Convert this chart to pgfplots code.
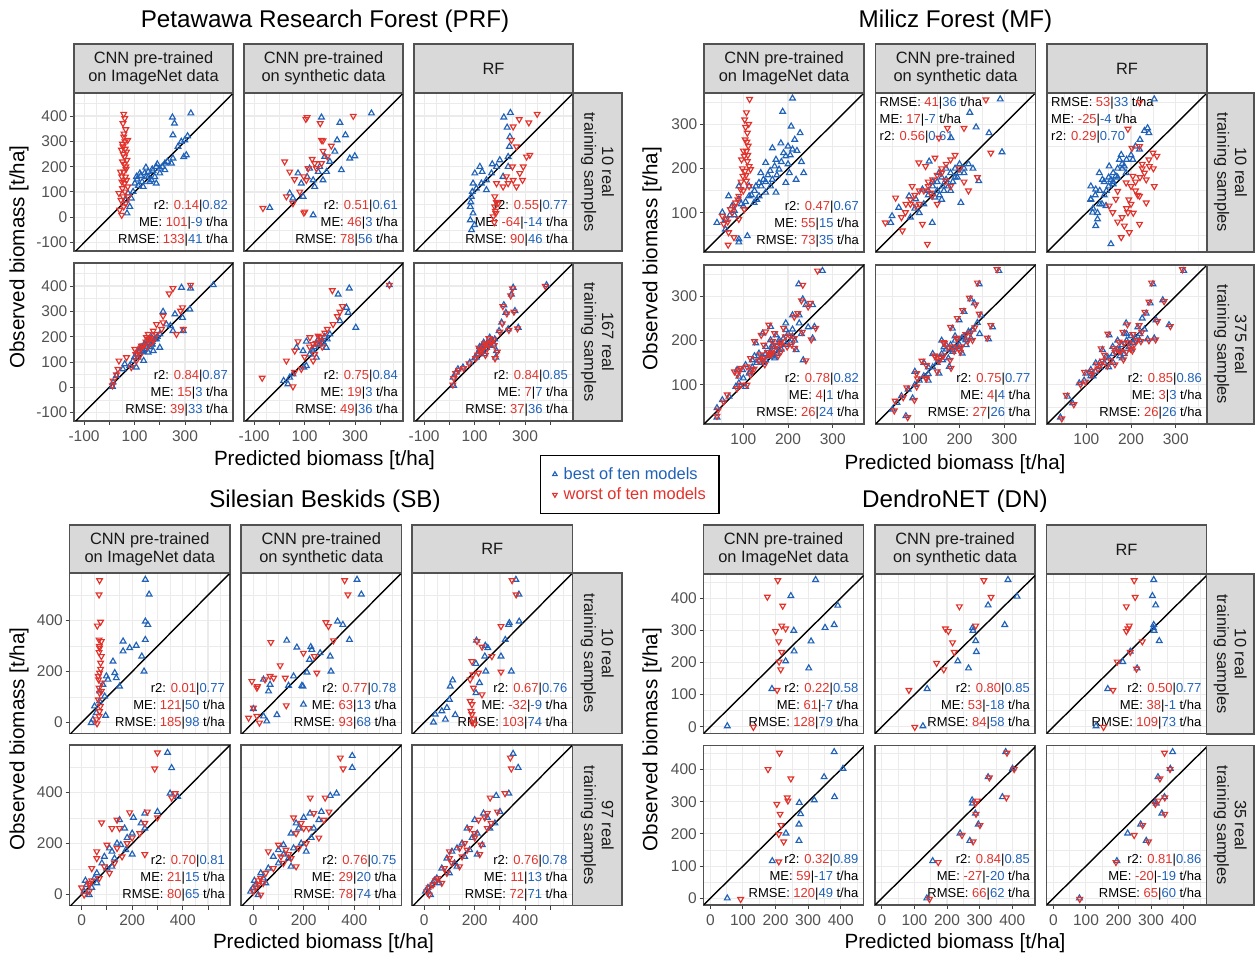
\documentclass[border=0pt]{standalone}
\usepackage{fontspec}
\setmainfont{Liberation Sans}
\usepackage{pgfplots}
\pgfplotsset{compat=1.18}
\definecolor{cB}{HTML}{2062B8}
\definecolor{cR}{HTML}{E2322B}
\definecolor{gridc}{gray}{0.92}
\definecolor{bordc}{gray}{0.32}
\definecolor{tickc}{gray}{0.25}
\definecolor{tickl}{gray}{0.32}
\definecolor{stripf}{gray}{0.85}
\definecolor{stript}{gray}{0.1}
\tikzset{
 stat/.style={anchor=base east, inner sep=0pt, font=\fontsize{13}{13}\selectfont, xshift=-5pt},
 statL/.style={anchor=base west, inner sep=0pt, font=\fontsize{13}{13}\selectfont, xshift=4pt},
 stripbox/.style={fill=stripf, draw=bordc, line width=1.1pt},
 striptext/.style={align=center, font=\fontsize{16.4}{17.6}\selectfont, text=stript, inner sep=0pt},
}
\pgfplotsset{
 base/.style={scale only axis, anchor=north west, grid=both,
  major grid style={gridc, line width=1.1pt}, minor grid style={gridc, line width=0.55pt},
  axis line style={bordc, line width=1.1pt}, tick align=outside, xtick pos=bottom, ytick pos=left,
  major tick length=4pt, minor tick length=0pt, tick style={tickc, line width=1pt},
  ticklabel style={font=\fontsize{15.5}{16}\selectfont, text=tickl},
  xticklabel style={inner ysep=5pt}, yticklabel style={inner xsep=2.5pt},
  /pgf/number format/assume math mode=true, clip=true},
 prf/.style={base, width=159pt, height=158pt, xmin=-140, xmax=490, ymin=-133, ymax=491,
  xtick={-100,0,...,400}, xticklabels={-100,,100,,300,}, minor xtick={-50,50,...,450},
  ytick={-100,0,...,400}, yticklabels={-100,0,100,200,300,400}, minor ytick={-50,50,...,450}},
 mf/.style={base, width=160pt, height=159pt, xmin=12, xmax=370, ymin=12, ymax=370,
  xtick={100,200,300}, xticklabels={100,200,300}, minor xtick={50,150,250,350},
  ytick={100,200,300}, yticklabels={100,200,300}, minor ytick={50,150,250,350}},
 sb/.style={base, width=160.5pt, height=160.5pt, xmin=-48, xmax=587, ymin=-43, ymax=587,
  xtick={0,100,...,500}, xticklabels={0,,200,,400,}, minor xtick={-50,50,...,550},
  ytick={0,200,400}, yticklabels={0,200,400}, minor ytick={100,300,500}},
 dn/.style={base, width=160pt, height=159.5pt, xmin=-21, xmax=470, ymin=-21, ymax=475,
  xtick={0,100,...,400}, xticklabels={0,100,200,300,400}, minor xtick={50,150,...,450},
  ytick={0,100,...,400}, yticklabels={0,100,200,300,400}, minor ytick={50,150,...,450}},
 nox/.style={xticklabels={}, xtick style={draw=none}},
 noy/.style={yticklabels={}, ytick style={draw=none}},
 bestS/.style={only marks, mark=triangle, mark size=3.3pt, cB, mark options={line width=1.15pt, solid}},
 worstS/.style={only marks, mark=triangle, mark size=3.3pt, cR, mark options={line width=1.15pt, solid, rotate=180}},
 legimg/.style={legend image code/.code={\draw[##1, mark size=2.6pt] plot coordinates {(0pt,0pt)};}},
 diag/.style={black, line width=1.4pt, forget plot},
}
\newcommand{\stBR}[6]{%
 \node[stat, yshift=41pt] at (rel axis cs:1,0) {r2: \textcolor{cR}{#1}|\textcolor{cB}{#2}};
 \node[stat, yshift=24pt] at (rel axis cs:1,0) {ME: \textcolor{cR}{#3}|\textcolor{cB}{#4} t/ha};
 \node[stat, yshift=7pt] at (rel axis cs:1,0) {RMSE: \textcolor{cR}{#5}|\textcolor{cB}{#6} t/ha};}
\newcommand{\stTL}[6]{%
 \node[statL, yshift=-48pt] at (rel axis cs:0,1) {r2: \textcolor{cR}{#1}|\textcolor{cB}{#2}};
 \node[statL, yshift=-31pt] at (rel axis cs:0,1) {ME: \textcolor{cR}{#3}|\textcolor{cB}{#4} t/ha};
 \node[statL, yshift=-14pt] at (rel axis cs:0,1) {RMSE: \textcolor{cR}{#5}|\textcolor{cB}{#6} t/ha};}
\newcommand{\tstrip}[5]{\draw[stripbox] (#1,954-#2) rectangle ++(#3,-#4);
 \node[striptext] at (#1+#3/2,954-#2-#4/2) {#5};}
\newcommand{\rstrip}[5]{\draw[stripbox] (#1,954-#2) rectangle ++(#3,-#4);
 \node[striptext, rotate=-90] at (#1+#3/2,954-#2-#4/2) {#5};}
\newcommand{\diagline}{\addplot[diag] coordinates {(-300,-300) (800,800)};}
\begin{document}
\begin{tikzpicture}[x=1pt,y=1pt]
\path[use as bounding box] (0,0) rectangle (1255,954);
% ================= PRF =================
\begin{axis}[prf, nox, at={(74pt,861pt)}]
\addplot[bestS] coordinates {(323,411)(250,395)(258,371)(252,325)(310,321)(299,305)(285,299)(272,279)(305,246)(295,239)(252,233)(246,213)(220,213)(200,193)(173,184)(145,197)(121,174)(108,161)(147,161)(167,147)(186,134)(134,121)(101,134)(94,101)(74,95)(65,68)(81,42)(70,16)(87,75)(200,174)(186,200)(154,180)(220,187)(110,150)(125,165)(140,175)(155,160)(170,190)(190,210)(210,200)(230,220)(180,160)(160,140)(130,140)(115,125)};
\addplot[worstS] coordinates {(57,408)(61,391)(54,371)(65,347)(57,318)(62,299)(54,279)(68,259)(60,239)(52,220)(65,200)(57,180)(49,161)(68,147)(60,134)(52,114)(62,101)(54,82)(46,68)(65,55)(57,42)(41,29)(49,9)(73,121)(44,180)(73,305)(48,266)(70,226)(38,95)(75,82)(55,250)(63,270)(58,330)(52,290)(66,190)(59,210)(50,140)(64,160)};
\diagline
\stBR{0.14}{0.82}{101}{-9}{133}{41}
\end{axis}
\begin{axis}[prf, nox, noy, at={(244pt,861pt)}]
\addplot[bestS] coordinates {(167,395)(240,374)(365,411)(229,305)(262,325)(299,242)(279,233)(246,187)(187,180)(173,147)(140,121)(120,193)(94,82)(-38,38)(41,95)(87,134)(134,147)(154,180)(134,9)(54,75)(74,174)(200,220)(220,260)(180,240)(110,160)(160,200)};
\addplot[worstS] coordinates {(110,395)(162,371)(293,400)(173,303)(206,282)(167,305)(173,262)(167,213)(107,147)(97,18)(147,193)(105,388)(-65,36)(21,220)(41,180)(54,55)(97,161)(114,193)(140,213)(101,22)(81,101)(28,82)(190,240)(130,230)(60,150)};
\diagline
\stBR{0.51}{0.61}{46}{3}{78}{56}
\end{axis}
\begin{axis}[prf, nox, noy, at={(414pt,861pt)}]
\addplot[bestS] coordinates {(216,395)(242,413)(229,355)(240,318)(238,279)(233,239)(121,200)(101,174)(147,147)(167,174)(187,200)(200,226)(127,134)(94,134)(87,82)(83,42)(94,16)(83,-11)(91,101)(107,114)(147,108)(213,161)(233,200)(85,60)(100,-30)(88,-50)(130,180)(170,210)};
\addplot[worstS] coordinates {(277,387)(348,408)(315,374)(306,239)(319,246)(293,200)(279,174)(253,147)(266,121)(233,134)(213,121)(187,134)(180,82)(180,42)(184,16)(174,3)(193,55)(266,279)(246,305)(290,147)(253,358)(226,161)(178,-20)(182,25)(186,60)(250,200)};
\diagline
\stBR{0.55}{0.77}{-64}{-14}{90}{46}
\end{axis}
\begin{axis}[prf, at={(74pt,691pt)}]
\addplot[bestS] coordinates {(412,404)(322,391)(286,394)(290,275)(260,289)(242,243)(213,299)(252,223)(293,223)(200,210)(187,190)(167,170)(147,184)(134,144)(114,118)(94,105)(81,85)(54,72)(28,46)(15,20)(12,3)(167,197)(174,144)(121,157)(226,249)(61,92)(107,79)(136,105)(154,138)(200,157)(319,308)(120,150)(130,160)(140,170)(150,175)(160,185)(170,180)(180,190)(190,200)(140,150)(150,160)(130,140)(110,130)(100,120)(160,160)(170,170)};
\addplot[worstS] coordinates {(322,404)(252,391)(237,370)(290,315)(282,302)(213,256)(213,282)(207,230)(187,210)(167,177)(147,197)(101,151)(127,164)(38,105)(34,72)(28,50)(15,26)(12,7)(68,118)(107,105)(266,210)(174,223)(154,210)(187,249)(293,230)(121,125)(87,79)(150,160)(125,155)(135,165)(145,180)(155,190)(165,195)(175,185)(115,140)(105,130)};
\diagline
\stBR{0.84}{0.87}{15}{3}{39}{33}
\end{axis}
\begin{axis}[prf, noy, at={(244pt,691pt)}]
\addplot[bestS] coordinates {(233,367)(277,391)(436,404)(266,315)(273,295)(240,262)(303,236)(173,177)(186,157)(107,85)(147,118)(94,144)(17,26)(34,13)(68,157)(107,181)(134,144)(154,190)(97,79)(54,52)(41,39)(200,210)(160,170)(120,130)(130,150)(140,160)(150,170)(170,180)(180,200)(190,190)};
\addplot[worstS] coordinates {(210,383)(436,404)(240,298)(213,249)(160,197)(134,105)(140,131)(121,197)(-68,37)(54,3)(28,105)(61,144)(74,181)(134,170)(154,203)(87,72)(230,280)(190,230)(100,120)(170,160)(250,320)(60,60)(120,160)(145,175)(165,185)(180,215)};
\diagline
\stBR{0.75}{0.84}{19}{3}{49}{36}
\end{axis}
\begin{axis}[prf, noy, at={(414pt,691pt)}, legend cell align=left,
 legend style={at={(0.7925,-0.215)}, anchor=north west, draw=black, line width=1.3pt, fill=white,
  inner xsep=12pt, inner ysep=11pt, /tikz/row sep=5pt, /tikz/column sep=5.5pt,
  font=\fontsize{16.4}{17}\selectfont, nodes={inner sep=1pt}}]
\addplot[bestS, legimg] coordinates {(385,404)(253,394)(246,367)(216,325)(224,295)(260,302)(207,256)(233,230)(273,236)(160,197)(174,170)(147,157)(127,144)(187,144)(107,118)(81,98)(54,79)(34,72)(28,59)(15,39)(17,7)(197,223)(167,184)(136,177)(184,118)(140,131)(150,170)(120,160)(120,150)(130,160)(140,165)(150,175)(160,180)(170,185)(180,190)(160,165)(110,130)(100,115)};
\addlegendentry{\textcolor{cB}{best of ten models}}
\addplot[worstS, legimg] coordinates {(380,400)(250,390)(243,362)(212,320)(228,291)(256,298)(210,252)(236,226)(270,232)(157,193)(178,166)(150,153)(124,140)(190,140)(104,114)(78,94)(57,75)(37,68)(25,55)(18,35)(14,10)(200,219)(164,180)(139,173)(181,114)(143,127)(146,174)(117,156)(125,148)(135,158)(155,170)(165,178)(175,188)(112,128)};
\addlegendentry{\textcolor{cR}{worst of ten models}}
\diagline
\stBR{0.84}{0.85}{7}{7}{37}{36}
\end{axis}
% ================= MF =================
\begin{axis}[mf, nox, at={(704pt,861pt)}]
\addplot[bestS] coordinates {(210,358)(188,328)(207,295)(227,280)(184,257)(210,243)(165,246)(195,228)(173,220)(150,213)(180,198)(203,190)(165,175)(135,168)(150,146)(128,160)(113,138)(90,131)(124,123)(75,116)(53,101)(41,78)(60,63)(90,41)(109,48)(90,34)(135,138)(161,160)(195,168)(218,175)(139,190)(113,160)(173,146)(90,160)(67,138)(60,85)(70,95)(80,105)(95,120)(105,125)(118,140)(125,150)(140,160)(145,175)(155,185)(160,195)(170,205)(185,215)(190,235)(200,250)(215,265)(205,230)(175,185)(150,170)(130,130)(100,115)(80,95)(220,240)(230,215)(235,190)(200,210)};
\addplot[worstS] coordinates {(114,356)(107,326)(105,293)(109,280)(104,265)(111,251)(107,239)(102,228)(109,216)(113,205)(104,194)(99,183)(107,172)(113,160)(94,153)(90,138)(83,123)(71,108)(62,86)(56,75)(67,56)(79,45)(66,28)(90,86)(102,108)(116,198)(96,220)(53,93)(100,240)(108,260)(112,300)(103,310)(110,230)(98,200)(106,185)(95,170)(100,150)(88,130)(80,115)(75,100)(65,80)};
\diagline
\stBR{0.47}{0.67}{55}{15}{73}{35}
\end{axis}
\begin{axis}[mf, nox, noy, at={(875.5pt,861pt)}]
\addplot[bestS] coordinates {(291,356)(223,326)(237,293)(181,269)(295,237)(266,280)(243,172)(203,123)(46,78)(139,78)(87,138)(132,216)(154,190)(162,160)(64,112)(49,93)(117,153)(102,131)(170,200)(190,180)(150,150)(120,120)(180,150)(200,210)(140,170)(110,100)(90,90)(160,130)(210,190)(230,200)(130,140)(100,110)(150,170)(160,180)(170,175)(180,190)(190,200)(200,190)(210,200)(220,210)(140,160)(130,150)(175,160)(185,170)(195,180)(165,150)(155,140)(145,135)};
\addplot[worstS] coordinates {(259,355)(210,291)(173,291)(270,235)(57,134)(34,78)(72,60)(128,30)(117,75)(102,116)(109,213)(124,205)(154,269)(145,224)(169,172)(79,101)(94,160)(139,138)(190,230)(200,200)(160,190)(130,170)(110,150)(180,160)(150,120)(70,90)(210,170)(220,150)(240,180)(90,120)(120,150)(130,160)(140,175)(150,185)(160,200)(170,210)(180,220)(100,140)(90,130)(80,120)(110,120)(135,145)};
\diagline
\stTL{0.56}{0.61}{17}{-7}{41}{36}
\end{axis}
\begin{axis}[mf, nox, noy, at={(1047pt,861pt)}]
\addplot[bestS] coordinates {(252,356)(237,291)(240,280)(178,231)(174,220)(151,205)(136,175)(121,153)(110,131)(114,101)(121,71)(155,30)(144,116)(189,190)(166,183)(204,220)(129,190)(219,243)(110,160)(125,86)(160,170)(180,200)(140,140)(130,120)(140,170)(150,180)(160,190)(170,200)(180,210)(190,220)(200,230)(150,160)(160,165)(170,180)(130,150)(120,140)(110,130)(115,110)(125,100)(135,120)(145,150)(155,175)(185,205)(210,250)(220,265)(230,285)};
\addplot[worstS] coordinates {(219,349)(193,289)(202,246)(219,250)(249,235)(258,228)(241,205)(234,175)(219,138)(252,160)(185,71)(178,45)(196,56)(219,75)(159,101)(166,131)(189,168)(204,183)(170,149)(151,116)(234,123)(193,101)(210,150)(225,200)(200,160)(210,170)(220,180)(230,190)(215,140)(200,120)(190,110)(180,90)(170,80)(225,210)(240,220)(250,200)(205,100)(195,130)};
\diagline
\stTL{0.29}{0.70}{-25}{-4}{53}{33}
\end{axis}
\begin{axis}[mf, at={(704pt,689pt)}]
\addplot[bestS] coordinates {(277,357)(224,327)(233,293)(240,280)(255,280)(259,231)(255,205)(234,156)(195,224)(173,212)(161,201)(150,186)(135,171)(120,156)(105,145)(98,134)(86,134)(83,96)(68,74)(53,66)(41,48)(41,27)(90,104)(195,239)(210,209)(180,179)(150,156)(225,239)(218,179)(165,164)(128,194)(105,96)(90,119)(161,231)(143,216)(210,257)(225,257)(165,186)(113,126)(180,201)(120,140)(130,150)(140,160)(150,170)(160,175)(170,185)(180,195)(190,205)(200,215)(210,225)(145,150)(155,165)(175,170)(185,180)(195,190)(165,190)(135,155)(115,130)(100,115)(205,195)(215,200)(230,215)(245,230)(170,160)(125,165)};
\addplot[worstS] coordinates {(266,357)(233,325)(230,290)(245,276)(250,284)(262,228)(252,202)(240,155)(190,228)(170,216)(165,198)(146,190)(138,168)(116,160)(108,141)(95,138)(80,130)(86,92)(64,78)(56,62)(44,44)(41,30)(94,100)(150,220)(214,205)(184,175)(147,160)(90,134)(215,183)(162,168)(125,198)(108,100)(87,123)(157,235)(140,212)(214,253)(222,261)(168,182)(116,122)(184,197)(124,136)(134,154)(144,156)(154,174)(164,171)(174,189)(184,191)(194,209)(204,211)(148,146)(158,169)(178,166)(198,186)(118,134)(208,191)(232,219)};
\diagline
\stBR{0.78}{0.82}{4}{1}{26}{24}
\end{axis}
\begin{axis}[mf, noy, at={(875.5pt,689pt)}]
\addplot[bestS] coordinates {(288,357)(244,327)(225,293)(233,284)(248,257)(265,203)(274,230)(199,246)(210,265)(184,227)(214,201)(184,179)(206,171)(162,156)(177,141)(154,126)(130,140)(120,120)(110,110)(100,100)(85,90)(70,75)(60,60)(50,45)(80,30)(150,160)(140,170)(170,190)(190,210)(160,200)(120,150)(100,130)(130,110)(95,70)(160,170)(170,180)(180,190)(190,200)(200,190)(210,210)(220,220)(230,225)(240,240)(175,160)(185,175)(195,185)(205,205)(215,190)(225,205)(165,185)(150,150)(140,140)(130,125)(245,215)};
\addplot[worstS] coordinates {(284,360)(240,330)(222,296)(236,281)(244,260)(262,206)(270,234)(195,250)(207,268)(180,230)(218,198)(188,176)(202,174)(158,160)(181,138)(150,130)(126,144)(124,116)(106,114)(104,96)(82,94)(74,72)(56,64)(54,42)(84,27)(146,164)(144,166)(166,194)(194,206)(164,196)(116,154)(104,126)(126,114)(99,66)(164,166)(174,184)(184,186)(194,204)(204,186)(214,214)(224,216)(234,229)(179,156)(199,181)(229,201)(154,154)};
\diagline
\stBR{0.75}{0.77}{4}{4}{27}{26}
\end{axis}
\begin{axis}[mf, noy, at={(1047pt,689pt)}]
\addplot[bestS] coordinates {(318,357)(249,327)(243,284)(271,291)(234,261)(256,246)(285,235)(252,205)(237,203)(185,216)(189,239)(151,212)(204,194)(174,179)(144,164)(121,149)(99,126)(84,104)(69,59)(58,74)(42,27)(159,186)(219,201)(136,179)(110,134)(170,200)(130,150)(115,120)(95,110)(200,180)(180,160)(150,140)(150,160)(160,170)(170,180)(180,190)(190,200)(200,210)(210,205)(220,215)(230,225)(160,150)(175,165)(185,170)(195,185)(205,195)(140,150)(130,140)(120,130)(110,120)(215,230)(225,250)(190,215)};
\addplot[worstS] coordinates {(315,360)(246,330)(240,287)(274,288)(231,264)(259,243)(288,232)(255,202)(240,200)(182,219)(192,236)(148,215)(207,191)(177,176)(141,167)(124,146)(96,129)(87,101)(72,56)(55,77)(45,24)(162,183)(222,198)(133,182)(113,131)(173,197)(133,147)(112,123)(98,107)(203,177)(183,157)(147,143)(154,156)(164,174)(174,176)(184,194)(194,196)(204,214)(214,201)(224,219)(164,146)(189,174)(199,181)(136,154)(126,136)(218,234)};
\diagline
\stBR{0.85}{0.86}{3}{3}{26}{26}
\end{axis}
% ================= SB =================
\begin{axis}[sb, nox, at={(69.5pt,381pt)}]
\addplot[bestS] coordinates {(252,561)(267,503)(252,397)(262,384)(252,325)(164,319)(164,280)(190,293)(216,302)(238,260)(124,240)(131,195)(247,201)(150,142)(98,182)(84,149)(71,123)(71,84)(95,27)(45,12)(51,64)(38,-1)(58,38)(104,169)(91,103)(137,175)};
\addplot[worstS] coordinates {(71,558)(69,502)(75,395)(62,380)(69,325)(78,319)(71,293)(69,276)(78,260)(75,234)(71,195)(67,169)(79,156)(69,136)(71,116)(66,90)(74,64)(69,25)(58,12)(61,-4)(71,44)(78,123)(66,182)(75,210)(70,300)};
\diagline
\stBR{0.01}{0.77}{121}{50}{185}{98}
\end{axis}
\begin{axis}[sb, nox, noy, at={(241pt,381pt)}]
\addplot[bestS] coordinates {(411,561)(428,503)(334,397)(355,384)(381,325)(228,297)(232,286)(265,273)(305,260)(223,247)(308,201)(213,197)(197,142)(199,71)(133,322)(41,169)(173,295)(140,145)(160,182)(193,145)(67,149)(61,123)(54,5)(41,25)(94,30)(1,54)};
\addplot[worstS] coordinates {(362,558)(375,502)(288,393)(298,378)(318,322)(199,273)(242,260)(252,195)(70,315)(-5,162)(15,136)(17,142)(81,175)(107,224)(127,175)(131,67)(1,58)(-18,18)(25,-1)(15,25)(47,169)(67,182)};
\diagline
\stBR{0.77}{0.78}{63}{13}{93}{68}
\end{axis}
\begin{axis}[sb, nox, noy, at={(412pt,381pt)}]
\addplot[bestS] coordinates {(363,561)(375,503)(334,384)(337,391)(376,397)(207,322)(321,325)(242,302)(252,293)(304,260)(240,260)(205,231)(244,201)(345,201)(219,156)(205,116)(113,166)(103,142)(90,58)(70,45)(44,32)(84,12)(37,1)(123,30)(100,90)};
\addplot[worstS] coordinates {(348,558)(364,502)(304,378)(209,319)(229,297)(268,260)(189,240)(193,188)(215,195)(304,199)(182,169)(195,136)(229,110)(182,84)(189,71)(185,45)(189,32)(195,15)(190,0)(200,-5)};
\diagline
\stBR{0.67}{0.76}{-32}{-9}{103}{74}
\end{axis}
\begin{axis}[sb, at={(69.5pt,209pt)}]
\addplot[bestS] coordinates {(340,557)(356,497)(380,384)(350,397)(300,325)(250,319)(205,302)(150,293)(235,280)(170,260)(200,240)(140,201)(155,195)(110,182)(175,175)(120,169)(90,149)(130,142)(80,123)(100,103)(60,84)(50,64)(20,38)(40,27)(10,12)(30,-1)(250,260)(180,223)(60,45)(120,110)(200,158)(15,55)};
\addplot[worstS] coordinates {(300,557)(289,494)(356,380)(370,397)(260,325)(190,322)(300,302)(79,282)(140,293)(250,280)(120,260)(230,240)(180,201)(100,195)(140,182)(60,169)(160,149)(60,142)(130,123)(40,103)(110,84)(70,64)(30,38)(0,27)(30,12)(10,-1)(150,260)(200,223)(30,45)(90,110)(250,158)(40,55)};
\diagline
\stBR{0.70}{0.81}{21}{15}{80}{65}
\end{axis}
\begin{axis}[sb, noy, at={(241pt,209pt)}]
\addplot[bestS] coordinates {(392,545)(392,498)(305,388)(330,397)(270,325)(225,319)(200,302)(260,293)(170,280)(240,260)(150,240)(190,201)(120,195)(160,182)(100,175)(210,169)(80,149)(140,142)(100,123)(60,103)(30,84)(40,64)(10,38)(0,27)(-10,12)(20,-1)(180,260)(230,223)(50,45)(150,110)(120,158)(5,55)};
\addplot[worstS] coordinates {(345,537)(356,494)(285,380)(226,380)(300,325)(240,319)(160,302)(280,293)(190,280)(220,260)(170,240)(210,201)(100,195)(180,182)(130,175)(60,169)(110,149)(150,142)(120,123)(80,103)(50,84)(30,64)(20,38)(10,27)(0,12)(30,-1)(200,260)(260,223)(40,45)(170,110)(140,158)(20,55)};
\diagline
\stBR{0.76}{0.75}{29}{20}{78}{74}
\end{axis}
\begin{axis}[sb, noy, at={(412pt,209pt)}]
\addplot[bestS] coordinates {(352,553)(372,498)(285,388)(335,397)(300,325)(235,319)(250,302)(200,293)(280,280)(170,260)(210,240)(150,201)(230,195)(130,182)(180,175)(110,169)(160,149)(90,142)(120,123)(70,103)(100,84)(50,64)(30,38)(15,27)(5,12)(25,-1)(260,260)(190,223)(60,45)(130,110)(210,158)(40,55)};
\addplot[worstS] coordinates {(341,537)(345,494)(261,380)(320,397)(290,325)(250,319)(240,302)(215,293)(265,280)(180,260)(200,240)(160,201)(225,195)(140,182)(170,175)(100,169)(150,149)(100,142)(110,123)(80,103)(90,84)(55,64)(35,38)(20,27)(10,12)(20,-1)(250,260)(200,223)(70,45)(140,110)(220,158)(45,55)};
\diagline
\stBR{0.76}{0.78}{11}{13}{72}{71}
\end{axis}
% ================= DN =================
\begin{axis}[dn, nox, at={(703.5pt,380pt)}]
\addplot[bestS] coordinates {(323,457)(247,407)(391,377)(380,317)(352,308)(256,299)(309,266)(257,235)(231,204)(302,182)(189,118)(52,2)};
\addplot[worstS] coordinates {(207,455)(175,404)(222,376)(219,314)(231,305)(200,297)(210,265)(219,232)(211,202)(216,178)(205,114)(132,-1)};
\diagline
\stBR{0.22}{0.58}{61}{-7}{128}{79}
\end{axis}
\begin{axis}[dn, nox, noy, at={(875pt,380pt)}]
\addplot[bestS] coordinates {(387,457)(415,405)(326,378)(377,317)(278,307)(280,299)(288,267)(290,233)(233,204)(266,182)(139,118)(126,2)};
\addplot[worstS] coordinates {(313,455)(335,403)(238,374)(288,314)(195,305)(204,297)(217,262)(222,232)(168,198)(190,178)(83,114)(101,-1)};
\diagline
\stBR{0.80}{0.85}{53}{-18}{84}{58}
\end{axis}
\begin{axis}[dn, nox, noy, at={(1046.5pt,380pt)}]
\addplot[bestS] coordinates {(308,457)(304,407)(314,378)(308,317)(307,307)(309,299)(325,267)(236,234)(213,202)(257,182)(167,118)(131,2)};
\addplot[worstS] coordinates {(248,455)(251,403)(224,374)(233,314)(229,305)(224,297)(273,265)(236,232)(196,202)(255,180)(183,114)(154,-1)};
\diagline
\stBR{0.50}{0.77}{38}{-1}{109}{73}
\end{axis}
\begin{axis}[dn, at={(703.5pt,208.5pt)}]
\addplot[bestS] coordinates {(380,455)(407,403)(349,377)(381,315)(319,305)(273,297)(277,262)(272,230)(232,202)(272,179)(190,116)(52,0)};
\addplot[worstS] coordinates {(212,452)(177,401)(247,372)(236,313)(238,303)(204,293)(214,262)(217,227)(210,199)(225,176)(210,114)(93,-3)};
\diagline
\stBR{0.32}{0.89}{59}{-17}{120}{49}
\end{axis}
\begin{axis}[dn, noy, at={(875pt,208.5pt)}]
\addplot[bestS] coordinates {(380,455)(401,403)(326,377)(370,315)(277,305)(278,295)(287,264)(296,230)(240,202)(270,179)(156,116)(138,0)};
\addplot[worstS] coordinates {(384,452)(406,401)(330,375)(382,313)(293,303)(287,295)(289,262)(301,227)(246,196)(280,176)(173,112)(146,-3)};
\diagline
\stBR{0.84}{0.85}{-27}{-20}{66}{62}
\end{axis}
\begin{axis}[dn, noy, at={(1046.5pt,208.5pt)}]
\addplot[bestS] coordinates {(366,455)(359,403)(321,377)(341,315)(313,300)(316,295)(333,264)(268,230)(228,202)(285,179)(195,116)(80,0)};
\addplot[worstS] coordinates {(341,452)(358,401)(327,372)(342,313)(322,303)(313,293)(342,262)(274,227)(248,196)(292,176)(192,112)(81,-3)};
\diagline
\stBR{0.81}{0.86}{-20}{-19}{65}{60}
\end{axis}
% ================= strips =================
\tstrip{74}{44}{159}{49}{CNN pre-trained\\on ImageNet data}
\tstrip{244}{44}{159}{49}{CNN pre-trained\\on synthetic data}
\tstrip{414}{44}{159}{49}{RF}
\rstrip{573}{93}{49}{158}{10 real\\training samples}
\rstrip{573}{263}{49}{158}{167 real\\training samples}
\tstrip{704}{44}{160}{49}{CNN pre-trained\\on ImageNet data}
\tstrip{875.5}{44}{160}{49}{CNN pre-trained\\on synthetic data}
\tstrip{1047}{44}{160}{49}{RF}
\rstrip{1207}{93}{47}{159}{10 real\\training samples}
\rstrip{1207}{265}{47}{159}{375 real\\training samples}
\tstrip{69.5}{525}{160.5}{48}{CNN pre-trained\\on ImageNet data}
\tstrip{241}{525}{160.5}{48}{CNN pre-trained\\on synthetic data}
\tstrip{412}{525}{160.5}{48}{RF}
\rstrip{572.5}{573}{49.5}{160.5}{10 real\\training samples}
\rstrip{572.5}{745}{49.5}{160.5}{97 real\\training samples}
\tstrip{703.5}{525}{160}{49}{CNN pre-trained\\on ImageNet data}
\tstrip{875}{525}{160}{49}{CNN pre-trained\\on synthetic data}
\tstrip{1046.5}{525}{160}{49}{RF}
\rstrip{1206.5}{574}{47.5}{160}{10 real\\training samples}
\rstrip{1206.5}{745.5}{47.5}{159.5}{35 real\\training samples}
% ================= titles and axis labels =================
\begin{scope}[every node/.style={inner sep=0pt}]
\node[font=\fontsize{24.2}{26}\selectfont] at (325,954-21) {Petawawa Research Forest (PRF)};
\node[font=\fontsize{24.2}{26}\selectfont] at (955.5,954-21) {Milicz Forest (MF)};
\node[font=\fontsize{24.2}{26}\selectfont] at (325,954-501) {Silesian Beskids (SB)};
\node[font=\fontsize{24.2}{26}\selectfont] at (955,954-501) {DendroNET (DN)};
\node[font=\fontsize{20.6}{22}\selectfont] at (324.5,954-460) {Predicted biomass [t/ha]};
\node[font=\fontsize{20.6}{22}\selectfont] at (955,954-464) {Predicted biomass [t/ha]};
\node[font=\fontsize{20.6}{22}\selectfont] at (323.5,954-943) {Predicted biomass [t/ha]};
\node[font=\fontsize{20.6}{22}\selectfont] at (955,954-943) {Predicted biomass [t/ha]};
\node[font=\fontsize{20.6}{22}\selectfont, rotate=90] at (19,954-257) {Observed biomass [t/ha]};
\node[font=\fontsize{20.6}{22}\selectfont, rotate=90] at (652,954-258.5) {Observed biomass [t/ha]};
\node[font=\fontsize{20.6}{22}\selectfont, rotate=90] at (19,954-739) {Observed biomass [t/ha]};
\node[font=\fontsize{20.6}{22}\selectfont, rotate=90] at (652,954-739.5) {Observed biomass [t/ha]};
\end{scope}
\end{tikzpicture}
\end{document}
